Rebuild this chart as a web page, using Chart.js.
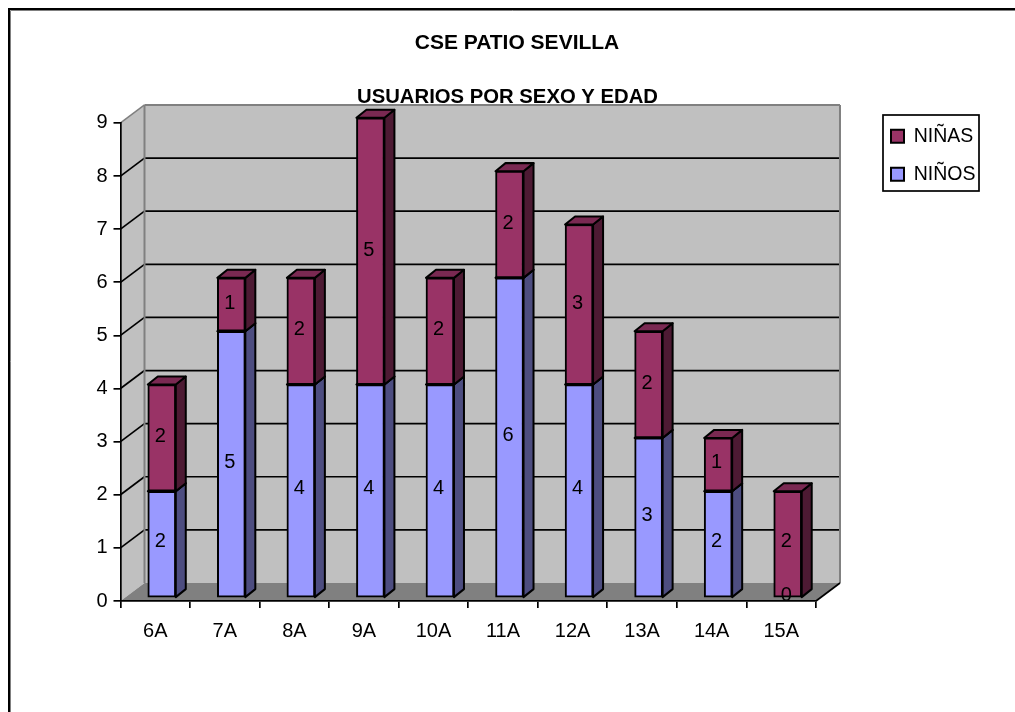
<!DOCTYPE html>
<html><head><meta charset="utf-8">
<style>html,body{margin:0;padding:0;background:#fff;overflow:hidden}canvas{display:block}</style>
<script src="https://cdn.jsdelivr.net/npm/chart.js@4"></script>
</head><body>
<canvas id="c" width="1015" height="712"></canvas>
<script>
const categories = ['6A','7A','8A','9A','10A','11A','12A','13A','14A','15A'];
const ninos = [2,5,4,4,4,6,4,3,2,0];
const ninas = [2,1,2,5,2,2,3,2,1,2];
const titleLine = 'CSE PATIO SEVILLA';
const subtitleLine = 'USUARIOS POR SEXO Y EDAD';
const FONT = '"Liberation Sans", Arial, sans-serif';
const depth = 24, rise = 18, barDepth = 10, barRise = 8;
const sideColors = ['#4d4d80','#4d1a33'], topColors = ['#7a7acc','#7a2952'];

function poly(ctx, pts, fill, stroke, lw){
  ctx.beginPath();
  pts.forEach((p,i)=> i?ctx.lineTo(p[0],p[1]):ctx.moveTo(p[0],p[1]));
  ctx.closePath();
  if(fill){ctx.fillStyle=fill;ctx.fill();}
  if(stroke){ctx.strokeStyle=stroke;ctx.lineWidth=lw;ctx.stroke();}
}
function line(ctx,x1,y1,x2,y2,c,lw){
  ctx.beginPath();ctx.moveTo(x1,y1);ctx.lineTo(x2,y2);ctx.strokeStyle=c;ctx.lineWidth=lw;ctx.stroke();
}
const threeD = {
  id:'threeD',
  afterLayout(chart){
    chart.titleBlock.left += 19;
    const lg = chart.legend;
    lg.left = 872.5; lg.right = 1015; lg.top = 108; lg.bottom = 300; lg.width = 142.5; lg.height = 192;
  },
  beforeDraw(chart){
    const ctx = chart.ctx, a = chart.chartArea, y = chart.scales.y;
    ctx.save();
    line(ctx,1015,10.5,10.5,10.5,'#808080',1);
    line(ctx,10.5,10.5,10.5,712,'#808080',1);
    line(ctx,8,9,1015,9,'#000',2);
    line(ctx,9,8,9,712,'#000',2);
    const L=a.left,R=a.right,T=a.top,B=a.bottom;
    poly(ctx,[[L+depth,T-rise],[R+depth,T-rise],[R+depth,B-rise],[L+depth,B-rise]],'#c0c0c0');
    poly(ctx,[[L,T],[L+depth,T-rise],[L+depth,B-rise],[L,B]],'#c0c0c0');
    poly(ctx,[[L,B],[L+depth,B-rise],[R+depth,B-rise],[R,B]],'#808080');
    for(let v=1;v<=8;v++){
      const p=y.getPixelForValue(v);
      line(ctx,L,p,L+depth,p-rise,'#000',1.7);
      line(ctx,L+depth,p-rise,R+depth,p-rise,'#000',1.7);
    }
    line(ctx,L,T,L+depth,T-rise,'#808080',1.5);
    line(ctx,L+depth,T-rise,R+depth,T-rise,'#808080',2);
    line(ctx,L+depth,T-rise,L+depth,B-rise,'#808080',2);
    line(ctx,R+depth,T-rise,R+depth,B-rise,'#808080',2);
    line(ctx,R,B,R+depth,B-rise,'#000',1.7);
    ctx.restore();
  },
  beforeDatasetsDraw(chart){
    const ctx = chart.ctx;
    ctx.save();
    ctx.translate(6.5,-3);
    ctx.translate(0,601);ctx.scale(1,1.0045);ctx.translate(0,-601);
    ctx.lineJoin='round';
    chart.data.datasets.forEach((ds,i)=>{
      chart.getDatasetMeta(i).data.forEach((el,j)=>{
        if(!ds.data[j]) return;
        const r=el.x+el.width/2, l=el.x-el.width/2;
        poly(ctx,[[r,el.y],[r+barDepth,el.y-barRise],[r+barDepth,el.base-barRise],[r,el.base]],sideColors[i],'#000',2);
        poly(ctx,[[l,el.y],[l+barDepth,el.y-barRise],[r+barDepth,el.y-barRise],[r,el.y]],topColors[i],'#000',2);
      });
    });
  },
  afterDatasetsDraw(chart){
    const ctx = chart.ctx;
    ctx.restore();
    ctx.save();
    ctx.font='20px '+FONT;ctx.fillStyle='#000';ctx.textAlign='center';ctx.textBaseline='middle';
    chart.data.datasets.forEach((ds,i)=>{
      chart.getDatasetMeta(i).data.forEach((el,j)=>{
        ctx.fillText(String(ds.data[j]),el.x+5,(el.y+el.base)/2-5.5);
      });
    });
    ctx.restore();
  },
  afterDraw(chart){
    const ctx=chart.ctx;
    ctx.save();ctx.strokeStyle='#000';ctx.lineWidth=1.7;ctx.strokeRect(883,115,96,76);ctx.restore();
  }
};
new Chart(document.getElementById('c'),{
  type:'bar',
  data:{labels:categories,datasets:[
    {label:'NIÑOS',data:ninos,backgroundColor:'#9999ff',borderColor:'#000',borderWidth:2,borderSkipped:false,barThickness:28,clip:false},
    {label:'NIÑAS',data:ninas,backgroundColor:'#993366',borderColor:'#000',borderWidth:2,borderSkipped:false,barThickness:28,clip:false}
  ]},
  options:{
    responsive:false,animation:false,
    layout:{padding:{left:86,right:86,top:0,bottom:0}},
    scales:{
      x:{stacked:true,
        grid:{display:true,drawOnChartArea:false,color:'#000',lineWidth:1.7,tickLength:7,tickColor:'#000'},
        border:{color:'#000',width:1.7},
        ticks:{color:'#000',font:{family:FONT,size:20},padding:11,maxRotation:0},
        afterFit(s){s.height=111;}},
      y:{stacked:true,min:0,max:9,
        grid:{display:true,drawOnChartArea:false,color:'#000',lineWidth:1.7,tickLength:7,tickColor:'#000'},
        border:{color:'#000',width:1.7},
        ticks:{color:'#000',font:{family:FONT,size:20},stepSize:1,padding:6},
        afterFit(s){s.width=34.5;}}
    },
    plugins:{
      title:{display:true,text:titleLine,color:'#000',font:{family:FONT,size:21,weight:'bold'},padding:{top:30.9,bottom:0}},
      subtitle:{display:true,text:subtitleLine,color:'#000',font:{family:FONT,size:20.3,weight:'bold'},padding:{top:29.2,bottom:13.3}},
      legend:{display:true,position:'right',align:'start',reverse:true,
        labels:{color:'#000',font:{family:FONT,size:19.5},boxWidth:13,boxHeight:13,padding:18.5}},
      tooltip:{enabled:false}
    }
  },
  plugins:[threeD]
});
</script></body></html>
